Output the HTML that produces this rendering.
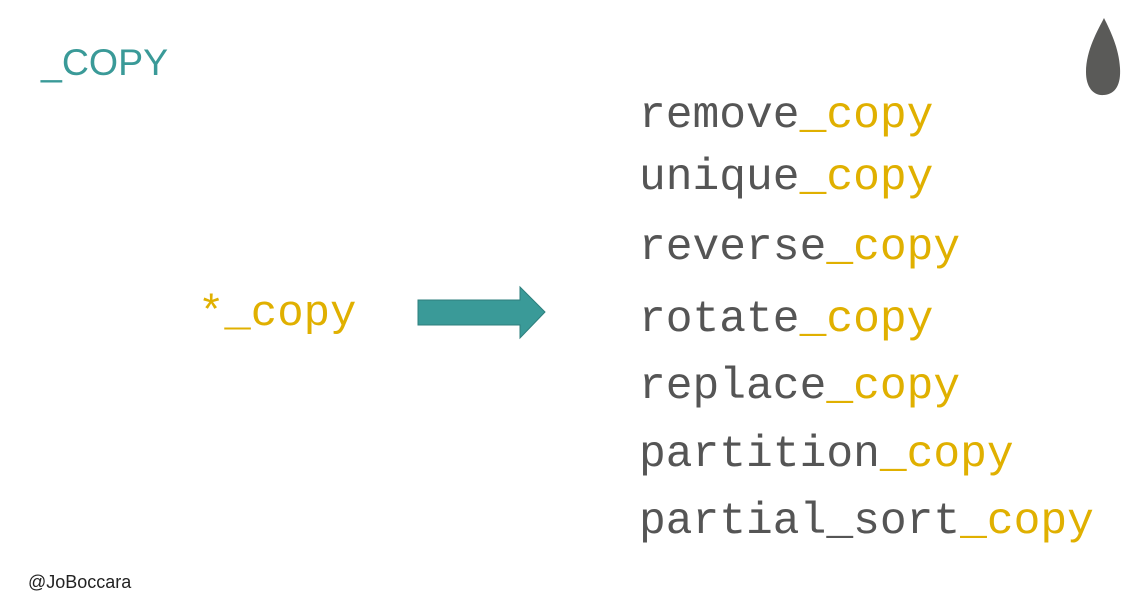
<!DOCTYPE html>
<html><head><style>body{margin:0;background:#fff}</style></head><body>
<svg width="1148" height="612" xmlns="http://www.w3.org/2000/svg" style="display:block">
<rect width="1148" height="612" fill="#fff"/>
<text x="41" y="75" font-family="Liberation Sans, sans-serif" font-size="37.5" fill="#3a9a98">_COPY</text>
<path d="M1104 18 C1098 30 1086 50 1086 72 C1086 88 1094 96 1104 95 C1116 94 1121 84 1120 68 C1119 48 1110 30 1104 18 Z" fill="#5a5a58"/>
<g font-family="Liberation Mono, monospace" font-size="44.6" fill="#555">
<text x="639" y="127">remove<tspan fill="#e0b000">_copy</tspan></text>
<text x="639" y="189">unique<tspan fill="#e0b000">_copy</tspan></text>
<text x="639" y="259">reverse<tspan fill="#e0b000">_copy</tspan></text>
<text x="639" y="331">rotate<tspan fill="#e0b000">_copy</tspan></text>
<text x="639" y="398">replace<tspan fill="#e0b000">_copy</tspan></text>
<text x="639" y="466">partition<tspan fill="#e0b000">_copy</tspan></text>
<text x="639" y="533">partial_sort<tspan fill="#e0b000">_copy</tspan></text>
</g>
<text x="198" y="325" font-family="Liberation Mono, monospace" font-size="44" fill="#e0b000">*_copy</text>
<path d="M418 300 L520 300 L520 287 L545 312 L520 338 L520 325 L418 325 Z" fill="#3a9a98" stroke="#2d7f7d" stroke-width="1"/>
<text x="28" y="588" font-family="Liberation Sans, sans-serif" font-size="18" fill="#222">@JoBoccara</text>
</svg>
</body></html>
